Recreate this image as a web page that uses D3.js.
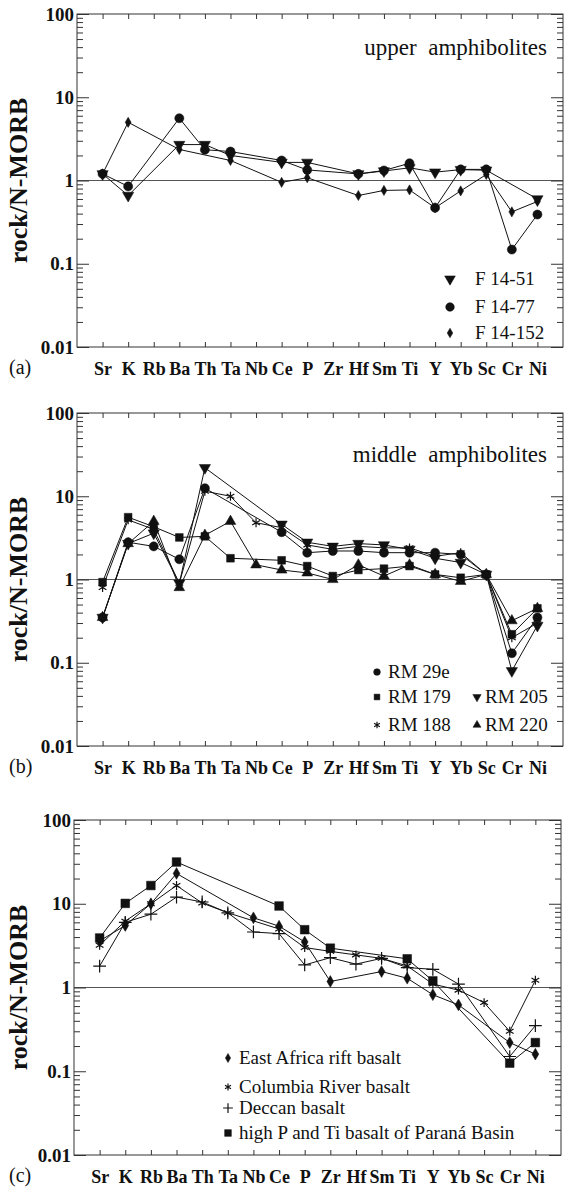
<!DOCTYPE html>
<html>
<head>
<meta charset="utf-8">
<script src="https://cdn.jsdelivr.net/npm/d3@7"></script>
<style>
body { margin: 0; background: #fff; }
text { font-family: "Liberation Serif", "Times New Roman", serif; fill: #111; }
</style>
</head>
<body>
<script>
// element order on the x axis
var elements = ["Sr", "K", "Rb", "Ba", "Th", "Ta", "Nb", "Ce", "P", "Zr", "Hf", "Sm", "Ti", "Y", "Yb", "Sc", "Cr", "Ni"];

// y axis ticks
var yMajor = [0.01, 0.1, 1, 10, 100];
var yLabels = ["0.01", "0.1", "1", "10", "100"];

// (a) upper amphibolites, null = not plotted
var f1451  = [1.2, 0.66, null, 2.7, 2.7, 2.0, null, 1.65, 1.65, null, 1.2, 1.3, 1.42, 1.26, 1.35, 1.33, null, 0.6];
var f1477  = [1.2, 0.85, null, 5.6, 2.34, 2.23, null, 1.74, 1.34, null, 1.2, 1.32, 1.61, 0.47, 1.36, 1.36, 0.148, 0.39];
var f14152 = [1.2, 5.0, null, 2.36, null, 1.74, null, 0.95, 1.08, null, 0.66, 0.76, 0.77, 0.47, 0.75, 1.18, 0.42, 0.56];

// (b) middle amphibolites
var rm29e = [0.35, 2.8, 2.5, 1.75, 12.5, null, null, 3.7, 2.1, 2.2, 2.2, 2.1, 2.1, 2.1, 2.0, 1.15, 0.13, 0.35];
var rm179 = [0.93, 5.6, 4.3, 3.2, 3.3, 1.8, null, 1.7, 1.45, 1.1, 1.3, 1.35, 1.45, 1.15, 1.05, 1.15, 0.22, 0.45];
var rm205 = [0.35, 2.7, 3.6, 0.9, 22, null, null, 4.6, 2.8, 2.5, 2.7, 2.6, 2.3, 1.8, 1.6, 1.15, 0.08, 0.28];
var rm188 = [0.8, 5.2, 4.0, 0.9, 11.5, 10, 4.8, 4.2, 2.6, 2.3, 2.5, 2.4, 2.4, 1.9, 2.1, 1.15, 0.2, 0.3];
var rm220 = [0.35, 2.7, 5.0, 0.8, 3.4, 5.0, 1.5, 1.3, 1.2, 1.0, 1.5, 1.1, 1.5, 1.15, 0.95, 1.15, 0.32, 0.45];

// (c) continental basalts
var eastAfrica = [3.6, 5.5, 10, 23, null, null, 6.8, 5.4, 3.5, 1.18, null, 1.55, 1.29, 0.82, 0.62, null, 0.22, 0.16];
var columbia   = [3.2, 6.2, 10, 16.5, 10.2, 7.8, null, 5.0, 3.0, 2.7, 2.45, 2.23, 1.81, 1.1, 0.93, 0.66, 0.3, 1.22];
var deccan     = [1.8, 6.0, 7.5, 12, 10.5, 7.8, 4.6, 4.4, 1.86, 2.27, 1.9, 2.23, 1.73, 1.65, 1.1, null, 0.15, 0.35];
var parana     = [3.9, 10.1, 16.5, 31.5, null, null, null, 9.4, 4.9, 2.95, null, null, 2.2, 1.2, null, null, 0.125, 0.22];

// marker styles
var marks = {
  tri:  {type: d3.symbolTriangle, size: 55, fill: true, rot: 180},
  triUp:{type: d3.symbolTriangle, size: 50, fill: true, rot: 0},
  circ: {type: d3.symbolCircle, size: 65, fill: true, rot: 0},
  dia:  {type: d3.symbolDiamond, size: 30, fill: true, rot: 0},
  diaC: {type: d3.symbolDiamond, size: 40, fill: true, rot: 0},
  sq:   {type: d3.symbolSquare, size: 60, fill: true, rot: 0},
  sqC:  {type: d3.symbolSquare, size: 75, fill: true, rot: 0},
  ast:  {type: d3.symbolAsterisk, size: 55, fill: false, rot: 0},
  plus: {type: d3.symbolPlus, size: 55, fill: false, rot: 0}
};

var panels = [
  {letter: "(a)", top: 14, bottom: 347, left: 77, right: 563,
   title: "upper\u00a0 amphibolites", titleY: 55, legendScale: 0.9,
   series: [
     {name: "F 14-51", values: f1451, mark: "tri"},
     {name: "F 14-77", values: f1477, mark: "circ"},
     {name: "F 14-152", values: f14152, mark: "dia"}
   ],
   legend: [
     {name: "F 14-51", mark: "tri", sx: 450, tx: 475, y: 279},
     {name: "F 14-77", mark: "circ", sx: 450, tx: 475, y: 307},
     {name: "F 14-152", mark: "dia", sx: 450, tx: 475, y: 333}
   ]},
  {letter: "(b)", top: 413, bottom: 746, left: 77, right: 563,
   title: "middle\u00a0 amphibolites", titleY: 462, legendScale: 0.55,
   series: [
     {name: "RM 29e", values: rm29e, mark: "circ"},
     {name: "RM 179", values: rm179, mark: "sq"},
     {name: "RM 205", values: rm205, mark: "tri"},
     {name: "RM 188", values: rm188, mark: "ast"},
     {name: "RM 220", values: rm220, mark: "triUp"}
   ],
   legend: [
     {name: "RM 29e", mark: "circ", sx: 377, tx: 388, y: 672},
     {name: "RM 179", mark: "sq", sx: 377, tx: 388, y: 697},
     {name: "RM 205", mark: "tri", sx: 477, tx: 485, y: 697},
     {name: "RM 188", mark: "ast", sx: 377, tx: 388, y: 725},
     {name: "RM 220", mark: "triUp", sx: 477, tx: 485, y: 725}
   ]},
  {letter: "(c)", top: 820, bottom: 1155, left: 74, right: 561,
   title: null, legendScale: 0.6,
   series: [
     {name: "East Africa rift basalt", values: eastAfrica, mark: "diaC"},
     {name: "Columbia River basalt", values: columbia, mark: "ast"},
     {name: "Deccan basalt", values: deccan, mark: "plus"},
     {name: "high P and Ti basalt of Paraná Basin", values: parana, mark: "sqC"}
   ],
   legend: [
     {name: "East Africa rift basalt", mark: "diaC", sx: 228, tx: 239, y: 1058},
     {name: "Columbia River basalt", mark: "ast", sx: 228, tx: 239, y: 1087},
     {name: "Deccan basalt", mark: "plus", sx: 228, tx: 239, y: 1108},
     {name: "high P and Ti basalt of Paraná Basin", mark: "sqC", sx: 228, tx: 239, y: 1133}
   ]}
];

var svg = d3.select("body").append("svg")
    .attr("width", 565)
    .attr("height", 1189);

svg.append("rect").attr("width", 565).attr("height", 1189).attr("fill", "#fff");

panels.forEach(drawPanel);

function drawMark(g, m, x, y, k) {
  var st = marks[m];
  g.append("path")
      .attr("d", d3.symbol().type(st.type).size(st.size * (k || 1))())
      .attr("transform", "translate(" + x + "," + y + ") rotate(" + st.rot + ")")
      .attr("fill", st.fill ? "#111" : "none")
      .attr("stroke", "#111")
      .attr("stroke-width", st.fill ? 0.5 : 1.2);
}

function drawPanel(p) {
  var g = svg.append("g");

  var x = d3.scalePoint()
      .domain(elements)
      .range([p.left, p.right])
      .padding(1);

  var y = d3.scaleLog()
      .domain([0.01, 100])
      .range([p.bottom, p.top]);

  var minor = y.ticks().filter(function(d) { return yMajor.indexOf(d) < 0; });

  // frame
  g.append("rect")
      .attr("x", p.left).attr("y", p.top)
      .attr("width", p.right - p.left).attr("height", p.bottom - p.top)
      .attr("fill", "none").attr("stroke", "#333").attr("stroke-width", 1);

  // reference line at 1
  g.append("line")
      .attr("x1", p.left).attr("x2", p.right)
      .attr("y1", y(1)).attr("y2", y(1))
      .attr("stroke", "#555").attr("stroke-width", 1);

  // inward ticks on all four sides
  function ticks(axis, tx, ty) {
    var a = g.append("g")
        .attr("transform", "translate(" + tx + "," + ty + ")")
        .call(axis);
    a.select(".domain").remove();
    a.selectAll("line").attr("stroke", "#333");
    return a;
  }
  ticks(d3.axisRight(y).tickValues(minor).tickSize(6).tickFormat(""), p.left, 0);
  ticks(d3.axisRight(y).tickValues(yMajor).tickSize(12).tickFormat(""), p.left, 0);
  ticks(d3.axisLeft(y).tickValues(minor).tickSize(6).tickFormat(""), p.right, 0);
  ticks(d3.axisLeft(y).tickValues(yMajor).tickSize(12).tickFormat(""), p.right, 0);
  ticks(d3.axisBottom(x).tickSize(5).tickFormat(""), 0, p.top);
  ticks(d3.axisTop(x).tickSize(5).tickFormat(""), 0, p.bottom);

  // tick labels
  var yl = g.append("g")
      .attr("transform", "translate(" + p.left + ",0)")
      .call(d3.axisLeft(y).tickValues(yMajor).tickSize(0).tickPadding(3)
        .tickFormat(function(d, i) { return yLabels[i]; }));
  yl.select(".domain").remove();
  yl.selectAll("text")
      .style("font-family", "'Liberation Serif', serif")
      .style("font-size", "19px").style("font-weight", "bold").attr("fill", "#111");

  var xl = g.append("g")
      .attr("transform", "translate(0," + p.bottom + ")")
      .call(d3.axisBottom(x).tickSize(0).tickPadding(15));
  xl.select(".domain").remove();
  xl.selectAll("text")
      .style("font-family", "'Liberation Serif', serif")
      .style("font-size", "18px").style("font-weight", "bold").attr("fill", "#111");

  // y title
  g.append("text")
      .attr("transform", "translate(27," + ((p.top + p.bottom) / 2) + ") rotate(-90)")
      .attr("text-anchor", "middle")
      .style("font-size", "26px").style("font-weight", "bold")
      .text("rock/N-MORB");

  // panel letter
  g.append("text")
      .attr("x", 9).attr("y", p.bottom + 27)
      .style("font-size", "20px")
      .text(p.letter);

  if (p.title) {
    g.append("text")
        .attr("x", 547).attr("y", p.titleY)
        .attr("text-anchor", "end")
        .style("font-size", "23px")
        .text(p.title);
  }

  // series lines, connecting across missing elements
  var line = d3.line()
      .x(function(d) { return x(d.el); })
      .y(function(d) { return y(d.v); });

  p.series.forEach(function(s) {
    var pts = elements.map(function(el, i) { return {el: el, v: s.values[i]}; })
        .filter(function(d) { return d.v != null; });
    g.append("path")
        .datum(pts)
        .attr("d", line)
        .attr("fill", "none")
        .attr("stroke", "#111")
        .attr("stroke-width", 1);
    pts.forEach(function(d) { drawMark(g, s.mark, x(d.el), y(d.v)); });
  });

  // legend
  p.legend.forEach(function(l) {
    drawMark(g, l.mark, l.sx, l.y, p.legendScale);
    g.append("text")
        .attr("x", l.tx).attr("y", l.y + 6)
        .style("font-size", "19px")
        .text(l.name);
  });
}
</script>
</body>
</html>
